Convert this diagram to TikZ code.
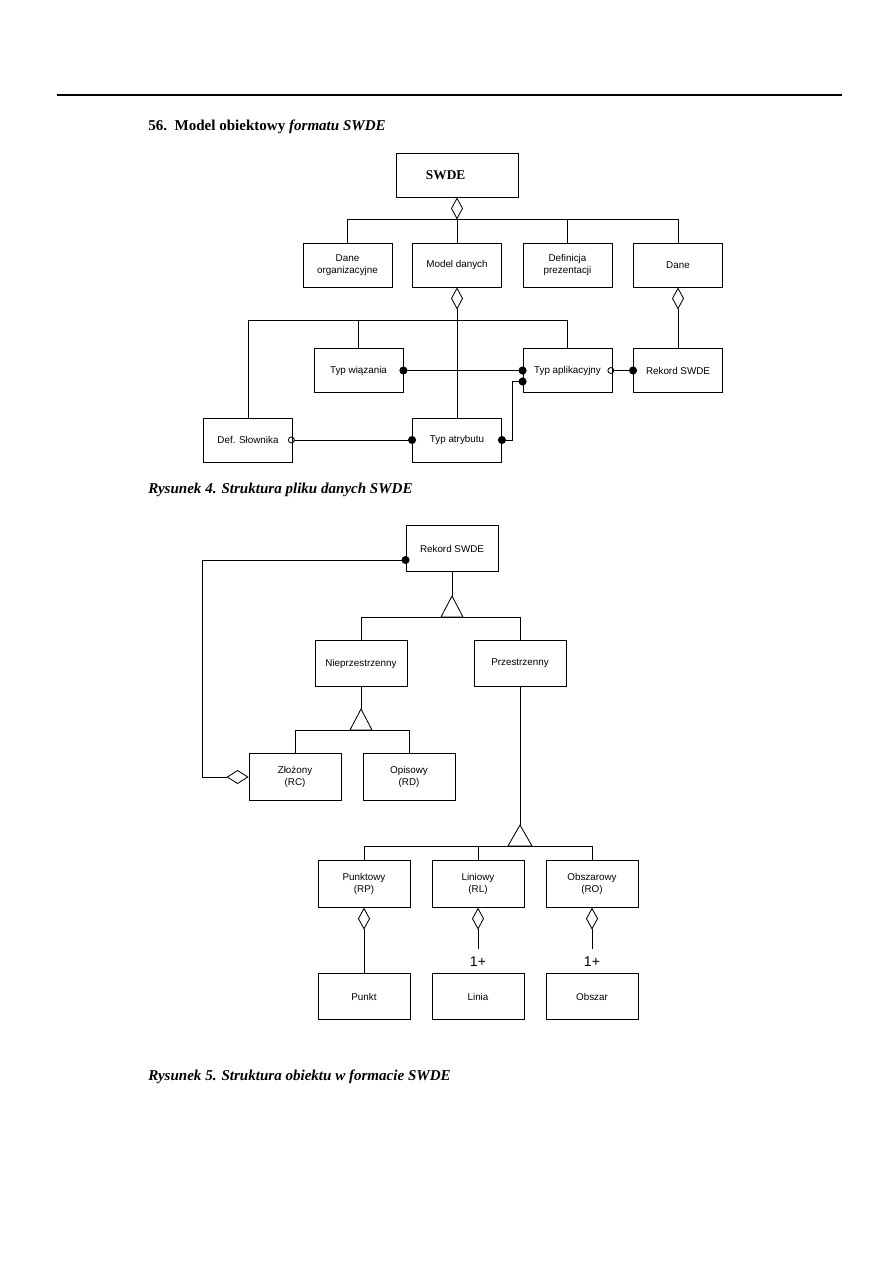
\documentclass[tikz,border=0pt]{standalone}
\usepackage{fontspec}
\setmainfont{Liberation Serif}
\setsansfont{Liberation Sans}
\usetikzlibrary{arrows.meta,calc}
\tikzset{
  box/.style={draw, line width=0.6pt, align=center, inner sep=2pt,
              minimum width=2.225cm, minimum height=1.1cm,
              font=\sffamily\fontsize{7}{9}\selectfont},
  boxb/.style={box, minimum width=2.3cm, minimum height=1.16cm},
  ln/.style={line width=0.6pt},
  agg/.style={ln, {Diamond[open,length=0.55cm,width=0.3cm]}-},
  dd/.style={ln, {Circle[length=0.2cm]}-{Circle[length=0.2cm]},
             shorten <=-0.1cm, shorten >=-0.1cm},
  od/.style={ln, {Circle[open,length=0.17cm]}-{Circle[length=0.2cm]},
             shorten <=-0.125cm, shorten >=-0.1cm},
  hdr/.style={anchor=west, inner sep=0pt, font=\bfseries\fontsize{10.7}{13}\selectfont},
  capt/.style={hdr, font=\bfseries\itshape\fontsize{10.7}{13}\selectfont},
  mult/.style={inner xsep=1pt, inner ysep=0.2cm, font=\sffamily\fontsize{10}{12}\selectfont}
}

\begin{document}
\begin{tikzpicture}[x=0.025cm,y=-0.025cm]
  \useasboundingbox (0,0) rectangle (893,1263);

  \draw[line width=1pt] (57,95) -- (842,95);
  \node[hdr] (hd) at (148,127) {56.\ \ Model obiektowy \textit{formatu SWDE}};

  % Rysunek 4
  \node[box, minimum width=3.05cm, text width=1.55cm, inner xsep=0.75cm, align=left,
        font=\bfseries\fontsize{9.5}{11}\selectfont] (swde) at (457,175) {SWDE};

  \node[box] (dorg) at (347.5,265) {Dane\\organizacyjne};
  \node[box] (mod)  at (457,265)   {Model danych};
  \node[box] (defp) at (567.5,265) {Definicja\\prezentacji};
  \node[box] (dane) at (678,265)   {Dane};

  \node[box] (typw) at (358.5,370.5) {Typ wiązania};
  \node[box] (typa) at (567.5,370.5) {Typ aplikacyjny};
  \node[box] (rek1) at (678,370.5)   {Rekord SWDE};

  \node[box] (defs)  at (248,440) {Def. Słownika};
  \node[box] (typat) at (457,440) {Typ atrybutu};

  \coordinate (b1) at (457,219);
  \coordinate (b2) at (457,320);

  \draw[agg] (swde) -- (b1);
  \draw[ln] (b1) -| (dorg);
  \draw[ln] (b1) -| (mod);
  \draw[ln] (b1) -| (defp);
  \draw[ln] (b1) -| (dane);

  \draw[agg] (mod) -- (typat);
  \draw[ln] (b2) -| (defs);
  \draw[ln] (b2) -| (typw);
  \draw[ln] (b2) -| (typa);

  \draw[agg] (dane) -- (rek1);
  \draw[dd] (typw) -- (typa);
  \draw[od] (typa) -- (rek1);
  \draw[od] (defs) -- (typat);
  \draw[dd] (typat.east) -- ++(10,0) |- ($(typa.west)+(0,11)$);

  \node[capt] (cap1) at (148,490) {Rysunek 4. Struktura pliku danych SWDE};

  % Rysunek 5
  \node[boxb] (rek2) at (452,548.5) {Rekord SWDE};
  \node[boxb] (niep) at (361,663.5) {Nieprzestrzenny};
  \node[boxb] (prz)  at (520,663.5) {Przestrzenny};
  \node[boxb] (zlo)  at (295,777)   {Złożony\\(RC)};
  \node[boxb] (opi)  at (409,777)   {Opisowy\\(RD)};

  \node[boxb] (pkt) at (364,884) {Punktowy\\(RP)};
  \node[boxb] (lin) at (478,884) {Liniowy\\(RL)};
  \node[boxb] (obs) at (592,884) {Obszarowy\\(RO)};

  \node[boxb] (pun)  at (364,996.5) {Punkt};
  \node[boxb] (lnia) at (478,996.5) {Linia};
  \node[boxb] (obsz) at (592,996.5) {Obszar};

  \coordinate (g1) at (452,596);
  \coordinate (g1b) at (452,617);
  \coordinate (g2) at (361,709);
  \coordinate (g2b) at (361,730);
  \coordinate (g3) at (520,825);
  \coordinate (g3b) at (520,846);

  \draw[ln] (rek2) -- (g1);
  \draw[ln] (g1) -- ++(-11,21) -- ++(22,0) -- cycle;
  \draw[ln] (g1b) -| (niep);
  \draw[ln] (g1b) -| (prz);

  \draw[ln] (niep) -- (g2);
  \draw[ln] (g2) -- ++(-11,21) -- ++(22,0) -- cycle;
  \draw[ln] (g2b) -| (zlo);
  \draw[ln] (g2b) -| (opi);

  \draw[ln] (prz) -- (g3);
  \draw[ln] (g3) -- ++(-12,21) -- ++(24,0) -- cycle;
  \draw[ln] (g3b) -| (pkt);
  \draw[ln] (g3b) -| (lin);
  \draw[ln] (g3b) -| (obs);

  \draw[ln, {Circle[length=0.2cm]}-{Diamond[open,length=0.55cm,width=0.35cm]},
        shorten <=-0.1cm] ($(rek2.west)+(0,11.5)$) -- ++(-203,0) |- (zlo);

  \node[mult] (m1) at (478,962) {1+};
  \node[mult] (m2) at (592,962) {1+};

  \draw[agg] (pkt) -- (pun);
  \draw[agg] (lin) -- (m1);
  \draw[agg] (obs) -- (m2);

  \node[capt] (cap2) at (148,1077) {Rysunek 5. Struktura obiektu w formacie SWDE};
\end{tikzpicture}
\end{document}
